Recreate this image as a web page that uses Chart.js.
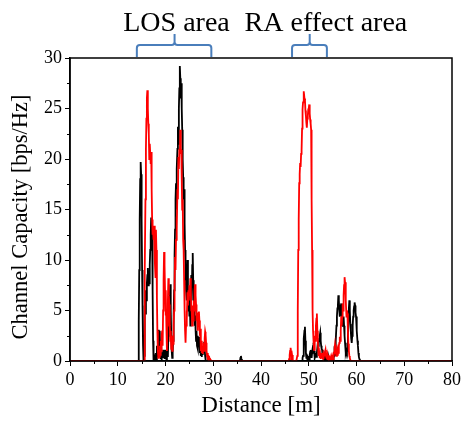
<!DOCTYPE html>
<html>
<head>
<meta charset="utf-8">
<script src="https://cdn.jsdelivr.net/npm/chart.js@4.4.1/dist/chart.umd.min.js"></script>
<style>
  html, body { margin: 0; padding: 0; background: #ffffff; }
  #wrap { width: 464px; height: 421px; }
</style>
</head>
<body>
<div id="wrap"><canvas id="grafica" width="464" height="421"></canvas></div>
<script>
// capacidad [bps/Hz], un valor cada 0.1 m a partir de la distancia de inicio
const paso = 0.1;

const inicioNegroLOS = 14.0;
const negroLOS = [0, 0, 0, 0, 4, 9, 14, 18, 19.7, 18.5,
    14, 9, 5, 1.5, 0, 0.5, 3, 5.5, 4.7, 7,
    6, 7.7, 8.5, 9.2, 7.5, 8.8, 7.7, 9.5, 11, 12.5,
    14.2, 12, 12.8, 7, 2, 0, 0, 0, 0.3, 0,
    0.8, 0.2, 1.5, 0.5, 2.2, 1, 3.1, 2, 3, 0.8,
    0.2, 0.6, 0.1, 0.8, 0.3, 1.1, 0.4, 0.9, 0.2, 1.1,
    0.3, 0.7, 0.1, 0.5, 1.5, 0.4, 2.5, 4, 3, 6.5,
    7.6, 5, 2.5, 1, 0.3, 0.8, 2, 4.5, 7, 10.5,
    13, 16, 17.6, 15, 19, 21, 23.2, 21.5, 25, 27,
    29.2, 28, 26, 27.5, 25, 22.9, 20, 18.2, 16, 17,
    13.7, 11, 9.7, 7, 8.5, 6, 10, 7.5, 5, 6.6,
    4.5, 6, 3.5, 7, 8.5, 6, 9.5, 10.7, 8, 7.7,
    5, 3.5, 4.5, 3.1, 2, 3, 1.5, 2.5, 1.2, 2.4,
    1.5, 2.4, 0.8, 1.6, 0.5, 1.2, 0.4, 1.4, 0.6, 1.4,
    0.8, 1.9, 1.2, 0.5, 0.1, 0];

const inicioNegroBache = 35.6;
const negroBache = [0, 0.3, 0.5, 0.2, 0];

const inicioNegroRA = 48.6;
const negroRA = [0, 0.3, 0.5, 1.2, 2.2, 3, 3.4, 2, 0.8, 0.3,
    0.5, 0.2, 0.4, 0.3, 0.5, 0.2, 0.6, 0.9, 1.1, 0.6,
    0.3, 0.8, 1.2, 1.5, 1.8, 1, 0.5, 0.3, 0.6, 0.8,
    0.4, 0.8, 1.3, 1, 1.5, 1.8, 2.2, 2.5, 2.8, 2,
    1.5, 1.2, 1.1, 0.5, 0.3, 0.5, 0.2, 0.4, 0.6, 0.4,
    0.2, 0.3, 0.1, 0.2, 0.3, 0.1, 0.3, 0.1, 0, 0,
    0, 0, 0, 0, 0, 0.1, 0.3, 0.5, 0.8, 0.6,
    1.1, 2, 3.5, 4.4, 5.2, 5.5, 6.5, 6, 5, 4.4,
    5, 5.4, 5.7, 4.5, 3.8, 3.4, 3.9, 4.4, 3.5, 2.5,
    1.8, 1.2, 0.8, 1.1, 0.9, 1.1, 2.5, 4, 5.2, 6,
    5, 3.7, 3, 2.2, 1.8, 2.5, 3.5, 4.4, 5, 5.4,
    5.8, 5.5, 4.8, 4.4, 4, 3, 2, 1.5, 0.8, 0.4,
    0.2, 0.1, 0];

const inicioRojoLOS = 15.5;
const rojoLOS = [0, 2, 9, 16, 21, 24, 26, 26.8, 25, 23.5,
    22.5, 20, 21.5, 20.6, 19.5, 20.7, 17, 14, 12.5, 13,
    12, 13.4, 12.5, 10, 8.3, 13, 11, 6.3, 3, 1,
    0.3, 1, 0.4, 1.5, 0.6, 2, 1, 2.5, 3, 1.5,
    5, 8, 10.8, 9.5, 7, 4.5, 7, 3, 1, 3.5,
    6, 8.2, 6.5, 5.6, 3.5, 2, 3, 1.2, 2, 1,
    2.5, 1.7, 3.5, 5, 7.6, 10.3, 9, 12, 14.3, 13,
    17, 16, 20.2, 19, 21, 20.5, 22.9, 21, 20.9, 18,
    15, 16, 12, 11, 8, 5, 3, 1.8, 3.5, 5,
    4, 6.8, 5.5, 7, 6, 7.5, 6.5, 8.2, 7, 5,
    4.9, 3.5, 5.5, 4, 6, 5, 7, 7.6, 6.5, 5.6,
    4, 4.8, 3, 4.2, 3.5, 4.9, 4, 2.5, 3.2, 1,
    2, 0.8, 1.5, 0.7, 1.2, 1.8, 1, 2.2, 2.9, 2.6,
    1.8, 1, 0.5, 0.8, 0.3, 0.4, 0.2, 0.3, 0.1, 0.15,
    0.05, 0];

const inicioRojoRA = 45.8;
const rojoRA = [0, 0.2, 0.6, 1, 1.3, 0.9, 0.4, 0.6, 0.2, 0.1,
    0, 0, 0, 0, 0, 0, 0, 0, 0.5, 5,
    11, 14, 17.6, 18.5, 19.6, 19.2, 20.5, 20.9, 23, 24.9,
    25.6, 26, 26.7, 26, 25.9, 24.8, 24.3, 23.6, 23.1, 24,
    24.3, 24.9, 25, 25.4, 24.5, 23.9, 23.5, 22.9, 16, 11,
    5, 3, 2, 1.1, 1.6, 2.5, 2, 3.5, 4.2, 4.7,
    3, 2, 1, 0.5, 0.8, 0.3, 0.6, 0.2, 0.5, 0.8,
    0.4, 0.3, 0.6, 0.2, 0.7, 0.9, 0.8, 1.1, 0.5, 0.3,
    0.4, 0.2, 0.5, 0.3, 0.2, 0.4, 0.3, 0.2, 0.3, 0.5,
    0.3, 0.2, 0.4, 0.6, 0.4, 0.8, 1.2, 1.6, 1.2, 0.8,
    0.5, 0.8, 0.6, 1, 0.8, 1.5, 1.8, 2.4, 2, 3,
    4.4, 3.5, 4.4, 5.7, 5, 6.5, 7.5, 8.3, 7.8, 7,
    6, 4.4, 5, 4.7, 3, 1.7, 1, 0.5, 0.3, 0.1,
    0];

// anotaciones de la parte superior
const zonas = [
    { texto: 'LOS area', centro: 22.3, desde: 14.0, hasta: 29.6, punta: 21.9 },
    { texto: 'RA effect area', centro: 53.6, desde: 46.5, hasta: 53.8, punta: 50.2 }
];

const fuente = "'Liberation Serif', 'Times New Roman', serif";

function armarSerie(tramos) {
    const puntos = [{ x: 0, y: 0 }];
    tramos.forEach(function (t) {
        t.valores.forEach(function (v, i) {
            puntos.push({ x: +(t.inicio + i * paso).toFixed(2), y: v });
        });
    });
    puntos.push({ x: 80, y: 0 });
    return puntos;
}

const serieNegra = armarSerie([
    { inicio: inicioNegroLOS, valores: negroLOS },
    { inicio: inicioNegroBache, valores: negroBache },
    { inicio: inicioNegroRA, valores: negroRA }
]);
const serieRoja = armarSerie([
    { inicio: inicioRojoLOS, valores: rojoLOS },
    { inicio: inicioRojoRA, valores: rojoRA }
]);

const marcoYMarcas = {
    id: 'marcoYMarcas',
    afterDraw: function (chart) {
        const ctx = chart.ctx;
        const area = chart.chartArea;
        const ex = chart.scales.x;
        const ey = chart.scales.y;
        ctx.save();
        ctx.strokeStyle = '#000';
        ctx.lineWidth = 1.5;
        ctx.strokeRect(area.left, area.top, area.right - area.left, area.bottom - area.top);

        // marcas menores
        ctx.lineWidth = 1;
        ctx.beginPath();
        for (let v = 5; v < 80; v += 10) {
            const px = Math.round(ex.getPixelForValue(v)) + 0.5;
            ctx.moveTo(px, area.bottom);
            ctx.lineTo(px, area.bottom + 3);
        }
        for (let v = 2.5; v < 30; v += 5) {
            const py = Math.round(ey.getPixelForValue(v)) + 0.5;
            ctx.moveTo(area.left, py);
            ctx.lineTo(area.left - 3, py);
        }
        ctx.stroke();

        // título del eje y
        ctx.fillStyle = '#000';
        ctx.save();
        ctx.translate(21, 217);
        ctx.rotate(-Math.PI / 2);
        ctx.font = '22.5px ' + fuente;
        ctx.textAlign = 'center';
        ctx.textBaseline = 'middle';
        ctx.fillText('Channel Capacity [bps/Hz]', 0, 0);
        ctx.restore();

        // zonas con llave azul
        ctx.font = '28px ' + fuente;
        ctx.textAlign = 'center';
        ctx.textBaseline = 'alphabetic';
        zonas.forEach(function (z) {
            ctx.fillText(z.texto, ex.getPixelForValue(z.centro), 31);
            const a = ex.getPixelForValue(z.desde);
            const b = ex.getPixelForValue(z.hasta);
            const c = ex.getPixelForValue(z.punta);
            const r = 3;
            ctx.strokeStyle = '#4a7ebb';
            ctx.lineWidth = 2;
            ctx.beginPath();
            ctx.moveTo(a, area.top - 1);
            ctx.lineTo(a, 45 + r);
            ctx.quadraticCurveTo(a, 45, a + r, 45);
            ctx.lineTo(c - r, 45);
            ctx.quadraticCurveTo(c, 45, c, 45 - r);
            ctx.lineTo(c, 34);
            ctx.moveTo(c, 45 - r);
            ctx.quadraticCurveTo(c, 45, c + r, 45);
            ctx.lineTo(b - r, 45);
            ctx.quadraticCurveTo(b, 45, b, 45 + r);
            ctx.lineTo(b, area.top - 1);
            ctx.stroke();
        });
        ctx.restore();
    }
};

new Chart(document.getElementById('grafica'), {
    type: 'line',
    data: {
        datasets: [{
            label: 'rojo',
            data: serieRoja,
            borderColor: '#ff0000',
            borderWidth: 1.8,
            pointRadius: 0,
            tension: 0
        }, {
            label: 'negro',
            data: serieNegra,
            borderColor: '#000000',
            borderWidth: 1.8,
            pointRadius: 0,
            tension: 0
        }]
    },
    options: {
        responsive: false,
        animation: false,
        layout: { padding: { top: 58, right: 10, left: 0, bottom: 0 } },
        plugins: {
            legend: { display: false },
            tooltip: { enabled: false }
        },
        scales: {
            x: {
                type: 'linear',
                min: 0,
                max: 80,
                afterFit: function (escala) { escala.height = 60; },
                border: { color: '#000', width: 1.5 },
                grid: { drawOnChartArea: false, color: '#000', tickLength: 5, lineWidth: 1 },
                ticks: {
                    stepSize: 10,
                    color: '#000',
                    padding: 3,
                    maxRotation: 0,
                    font: { family: fuente, size: 18 }
                },
                title: {
                    display: true,
                    text: 'Distance [m]',
                    color: '#000',
                    font: { family: fuente, size: 23 },
                    padding: { top: 0, bottom: 1 }
                }
            },
            y: {
                min: 0,
                max: 30,
                afterFit: function (escala) { escala.width = 70; },
                border: { color: '#000', width: 1.5 },
                grid: { drawOnChartArea: false, color: '#000', tickLength: 5, lineWidth: 1 },
                ticks: {
                    stepSize: 5,
                    color: '#000',
                    padding: 3,
                    font: { family: fuente, size: 18 }
                }
            }
        }
    },
    plugins: [marcoYMarcas]
});
</script>
</body>
</html>
